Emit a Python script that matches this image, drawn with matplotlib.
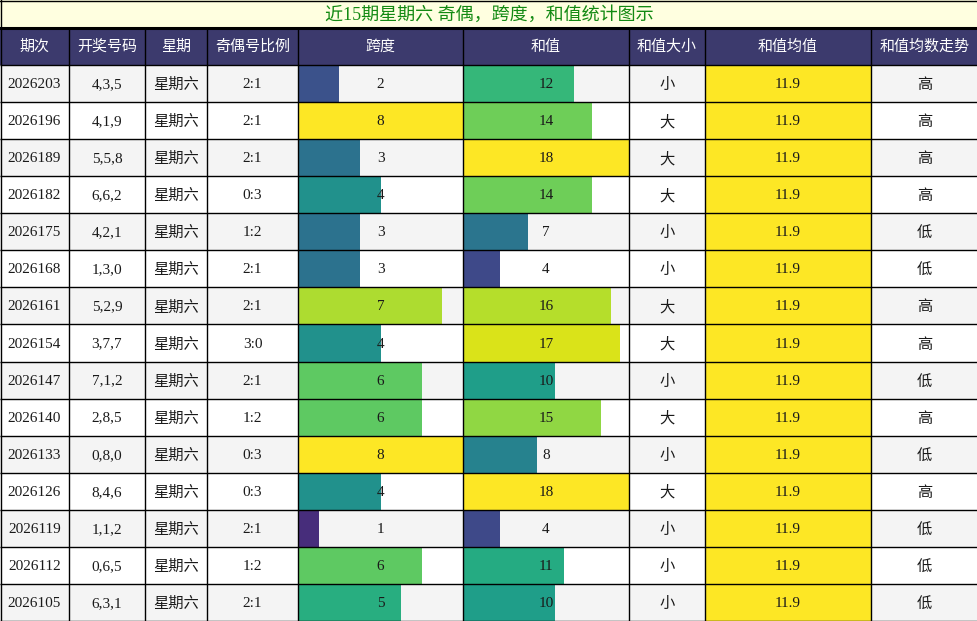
import matplotlib
matplotlib.use("Agg")
import matplotlib.pyplot as plt
from matplotlib.patches import Rectangle

title = "近15期星期六 奇偶，跨度，和值统计图示"
headers = ["期次", "开奖号码", "星期", "奇偶号比例", "跨度", "和值", "和值大小", "和值均值", "和值均数走势"]
periods = ["2026203", "2026196", "2026189", "2026182", "2026175", "2026168", "2026161", "2026154",
           "2026147", "2026140", "2026133", "2026126", "2026119", "2026112", "2026105"]
numbers = ["4,3,5", "4,1,9", "5,5,8", "6,6,2", "4,2,1", "1,3,0", "5,2,9", "3,7,7",
           "7,1,2", "2,8,5", "0,8,0", "8,4,6", "1,1,2", "0,6,5", "6,3,1"]
weekday = ["星期六"] * 15
ratios = ["2:1", "2:1", "2:1", "0:3", "1:2", "2:1", "2:1", "3:0", "2:1", "1:2", "0:3", "0:3", "2:1", "1:2", "2:1"]
spans = [2, 8, 3, 4, 3, 3, 7, 4, 6, 6, 8, 4, 1, 6, 5]
sums = [12, 14, 18, 14, 7, 4, 16, 17, 10, 15, 8, 18, 4, 11, 10]
sizes = ["小", "大", "大", "大", "小", "小", "大", "大", "小", "大", "小", "大", "小", "小", "小"]
avgs = [11.9] * 15
trends = ["高", "高", "高", "高", "低", "低", "高", "高", "低", "高", "低", "高", "低", "低", "低"]

W, H = 978, 621
col_edges = [0, 69, 145, 207, 298, 463, 629, 705, 871, 978]
title_h = 28
header_bottom = 65
row_h = (H - header_bottom) / 15.0

fig = plt.figure(figsize=(W / 100, H / 100), dpi=100)
ax = fig.add_axes([0, 0, 1, 1])
ax.set_xlim(0, W)
ax.set_ylim(H, 0)
ax.axis("off")

serif_cjk = ["Liberation Serif", "Noto Sans CJK SC"]
sans_cjk = ["Noto Sans CJK SC", "DejaVu Sans"]
lw = 1.0

# title
ax.add_patch(Rectangle((0, 0), W, title_h, facecolor="#ffffe0", edgecolor="none", zorder=0))
ax.text(W / 2, title_h / 2 + 1, title, ha="center", va="center", fontsize=13,
        color="#138a13", family=serif_cjk)

# header
ax.add_patch(Rectangle((0, title_h), W, header_bottom - title_h, facecolor="#3c3a6d", edgecolor="none", zorder=0))
for i, h in enumerate(headers):
    cx = (col_edges[i] + col_edges[i + 1]) / 2
    ax.text(cx, (title_h + header_bottom) / 2, h, ha="center", va="center", fontsize=10.8,
            color="white", family=sans_cjk)

cmap = matplotlib.colormaps["viridis"]
span_max = max(spans)
sum_max = max(sums)
avg_max = max(avgs)

for r in range(15):
    y0 = header_bottom + r * row_h
    cy = y0 + row_h / 2
    bg = "#f4f4f4" if r % 2 == 0 else "#ffffff"
    ax.add_patch(Rectangle((0, y0), W, row_h, facecolor=bg, edgecolor="none", zorder=0))

    bar_cols = [(4, spans[r], span_max), (5, sums[r], sum_max), (7, avgs[r], avg_max)]
    for ci, v, vmax in bar_cols:
        x0 = col_edges[ci]
        cw = col_edges[ci + 1] - col_edges[ci]
        frac = v / vmax
        ax.add_patch(Rectangle((x0, y0), cw * frac, row_h, facecolor=cmap(frac), edgecolor="none", zorder=1))

    texts = [(0, periods[r], serif_cjk), (1, numbers[r], serif_cjk), (2, weekday[r], sans_cjk),
             (3, ratios[r], serif_cjk), (4, str(spans[r]), serif_cjk), (5, str(sums[r]), serif_cjk),
             (6, sizes[r], sans_cjk), (7, f"{avgs[r]:.1f}", serif_cjk), (8, trends[r], sans_cjk)]
    for ci, t, fam in texts:
        cx = (col_edges[ci] + col_edges[ci + 1]) / 2
        ax.text(cx, cy + 1, t, ha="center", va="center", fontsize=11, color="#1a1a1a", family=fam, zorder=3)

# grid lines
for r in range(16):
    y = min(header_bottom + r * row_h, H - 0.5)
    ax.plot([0, W], [y, y], color="black", lw=lw, zorder=4, solid_capstyle="butt")
ax.plot([0, W], [title_h, title_h], color="black", lw=lw * 2.2, zorder=4)
ax.plot([0, W], [0.5, 0.5], color="black", lw=lw, zorder=4)
for x in col_edges:
    xx = min(max(x, 0.5), W - 0.5)
    ax.plot([xx, xx], [title_h, H], color="black", lw=lw, zorder=4)
ax.plot([0.5, 0.5], [0, title_h], color="black", lw=lw, zorder=4)
ax.plot([W - 0.5, W - 0.5], [0, title_h], color="black", lw=lw, zorder=4)

fig.savefig("out.png", dpi=100)
